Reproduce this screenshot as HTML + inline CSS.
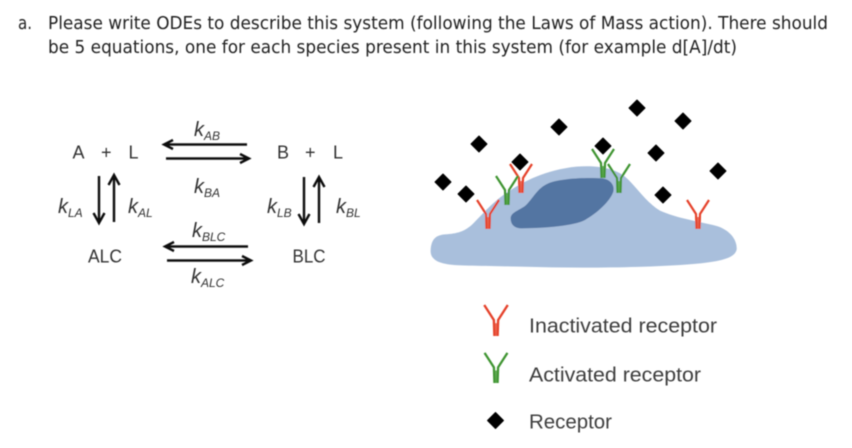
<!DOCTYPE html>
<html><head><meta charset="utf-8">
<style>html,body{margin:0;padding:0;background:#fff;width:852px;height:448px;overflow:hidden}svg{display:block}</style>
</head><body>
<svg width="852" height="448" viewBox="0 0 852 448" xmlns="http://www.w3.org/2000/svg">
<defs>
<filter id="b" x="-5%" y="-5%" width="110%" height="110%"><feGaussianBlur stdDeviation="0.45"/></filter>
<g id="dia"><path d="M0,-8 L8,0 L0,8 L-8,0Z" fill="#000" stroke="#000" stroke-width="1" stroke-linejoin="round"/></g>
<g id="rr" fill="none" stroke="#e5432c" stroke-width="2.200" stroke-linejoin="round"><path d="M-11,-29 L-2,-15 L-1.500,0 M11,-29 L2,-15 L1.500,0"/><path d="M0,-12 L0,0" stroke="#ea5c46" stroke-width="1.600"/></g>
<g id="gg" fill="none" stroke="#3f9430" stroke-width="2.200" stroke-linejoin="round"><path d="M-11,-29 L-2,-15 L-1.500,0 M11,-29 L2,-15 L1.500,0"/><path d="M0,-12 L0,0" stroke="#56a548" stroke-width="1.600"/></g>
</defs>

<g filter="url(#b)" font-family="'DejaVu Sans','Liberation Sans',sans-serif" font-size="17.5" fill="#222">
<text x="18" y="29" textLength="14" lengthAdjust="spacingAndGlyphs">a.</text>
<text x="48" y="29" textLength="780" lengthAdjust="spacingAndGlyphs">Please write ODEs to describe this system (following the Laws of Mass action). There should</text>
<text x="48" y="53" textLength="689" lengthAdjust="spacingAndGlyphs">be 5 equations, one for each species present in this system (for example d[A]/dt)</text>
</g>

<g filter="url(#b)" font-family="'Liberation Sans',sans-serif" fill="#333">
<g font-size="18">
<text x="72.500" y="158.500">A</text><text x="101" y="158.500">+</text><text x="128.500" y="158.500">L</text>
<text x="277" y="158.500">B</text><text x="305" y="158.500">+</text><text x="333" y="158.500">L</text>
<text x="88" y="262.500" textLength="34" lengthAdjust="spacingAndGlyphs">ALC</text>
<text x="292.500" y="262.500" textLength="33" lengthAdjust="spacingAndGlyphs">BLC</text>
</g>
<g font-style="italic" font-size="20">
<text x="194" y="136">k<tspan font-size="12" dy="4">AB</tspan></text>
<text x="194" y="193">k<tspan font-size="12" dy="4">BA</tspan></text>
<text x="58" y="213">k<tspan font-size="12" dy="4">LA</tspan></text>
<text x="128" y="213">k<tspan font-size="12" dy="4">AL</tspan></text>
<text x="267" y="213">k<tspan font-size="12" dy="4">LB</tspan></text>
<text x="336" y="213">k<tspan font-size="12" dy="4">BL</tspan></text>
<text x="192" y="237">k<tspan font-size="12" dy="4">BLC</tspan></text>
<text x="191" y="283">k<tspan font-size="12" dy="4">ALC</tspan></text>
</g>
</g>

<g filter="url(#b)" fill="none" stroke="#111" stroke-width="2.400">
<path d="M247,144.500 H165 M173,140 L164,144.500 L173,149"/>
<path d="M166,158.500 H248 M240,154 L249,158.500 L240,163"/>
<path d="M248,246.500 H166 M174,242 L165,246.500 L174,251"/>
<path d="M167,260.500 H250 M242,256 L251,260.500 L242,265"/>
<path d="M99,176 V222 M93.500,213 L99,223 L104.500,213"/>
<path d="M114,222 V176 M108.500,185 L114,175 L119.500,185"/>
<path d="M304,177 V223 M298.500,214 L304,224 L309.500,214"/>
<path d="M319,223 V178 M313.500,187 L319,177 L324.500,187"/>
</g>

<g filter="url(#b)">
<g transform="translate(420,90) scale(.33333)">
<path d="M32,480 C34,445 50,435 75,433 C110,431 135,425 160,400 C190,370 210,345 250,315 C300,280 370,240 470,230 C530,225 585,235 615,260 C650,290 675,335 720,362 C770,385 840,395 890,408 C930,420 952,450 950,478 C945,505 900,515 820,522 C700,532 500,536 300,530 C200,527 120,528 85,523 C50,518 30,505 32,480Z" fill="#a9bfdc"/>
<path d="M272,385 C272,368 295,362 315,348 C340,325 350,295 385,280 C420,265 500,262 545,265 C570,267 585,285 580,305 C570,335 530,370 495,390 C460,408 380,414 305,415 C285,415 272,405 272,385Z" fill="#5374a2"/>
</g>
<use href="#rr" x="521" y="193"/>
<use href="#dia" x="479" y="144"/>
<use href="#dia" x="443" y="182"/>
<use href="#dia" x="466" y="194"/>
<use href="#dia" x="520" y="162"/>
<use href="#dia" x="559" y="127"/>
<use href="#dia" x="603" y="146"/>
<use href="#dia" x="637" y="108"/>
<use href="#dia" x="683" y="121"/>
<use href="#dia" x="656" y="153"/>
<use href="#dia" x="718" y="171"/>
<use href="#dia" x="663" y="195"/>
<use href="#gg" x="507" y="205"/>
<use href="#rr" x="488" y="229"/>
<use href="#gg" x="603" y="178"/>
<use href="#gg" x="619" y="193"/>
<use href="#rr" x="698" y="229"/>
</g>

<g filter="url(#b)">
<g transform="translate(496,336) scale(1.070)"><use href="#rr"/></g>
<g transform="translate(496,383) scale(1.040)"><use href="#gg"/></g>
<path d="M495.500,412.500 L503.500,420.500 L495.500,428.500 L487.500,420.500Z" fill="#000" stroke="#000" stroke-linejoin="round"/>
<g font-family="'Liberation Sans',sans-serif" font-size="20" fill="#3c3c3c">
<text x="529" y="332.500" textLength="188" lengthAdjust="spacingAndGlyphs">Inactivated receptor</text>
<text x="529" y="381.500" textLength="172" lengthAdjust="spacingAndGlyphs">Activated receptor</text>
<text x="529" y="428.500" textLength="83" lengthAdjust="spacingAndGlyphs">Receptor</text>
</g>
</g>
</svg>
</body></html>
